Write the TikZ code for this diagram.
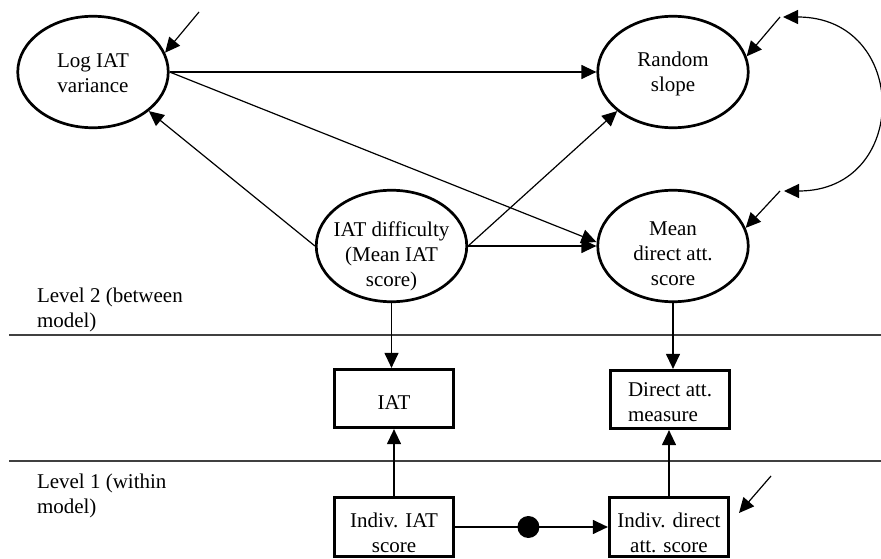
\documentclass[tikz,border=0pt]{standalone}
\usepackage{fontspec}
\setmainfont{Liberation Serif}
\usetikzlibrary{arrows.meta,shapes.geometric}
\newcommand{\ntext}[4]{\makebox[0pt][#2]{\raisebox{#1pt}[0pt][0pt]{\begin{tabular}[t]{@{}#3@{}}#4\end{tabular}}}}
\begin{document}
\begin{tikzpicture}[x=1pt,y=-1pt,
  every node/.style={font=\fontsize{21}{25}\selectfont, inner sep=0pt},
  latent/.style={ellipse, draw, line width=2.7pt, minimum width=150.5pt, minimum height=111.5pt},
  observed/.style={rectangle, draw, line width=2.7pt, minimum width=119.5pt, minimum height=58.5pt},
  conn/.style={line width=1.2pt, -{Triangle[length=15pt,width=14pt]}},
  biconn/.style={line width=1.2pt, {Triangle[length=15pt,width=14pt]}-{Triangle[length=15pt,width=14pt]}},
  levelsep/.style={line width=1.5pt, black!75},
  dotnode/.style={circle, fill=black, minimum size=22pt}
]
\useasboundingbox (0,0) rectangle (881,559);

% level separators
\coordinate (s2l) at (9,335); \coordinate (s2r) at (881,335);
\coordinate (s1l) at (9,461); \coordinate (s1r) at (881,461);
\draw[levelsep] (s2l) -- (s2r);
\draw[levelsep] (s1l) -- (s1r);

% latent variables
\node[latent] (loga) at (93,72) {\ntext{4}{c}{c}{Log IAT\\variance}};
\node[latent] (rs) at (673,72) {\ntext{5}{c}{c}{Random\\slope}};
\node[latent] (iatd) at (391.5,246) {\ntext{10}{c}{c}{IAT difficulty\\(Mean IAT\\score)}};
\node[latent] (mean) at (673,246) {\ntext{11}{c}{c}{Mean\\direct att.\\score}};

% observed
\node[observed] (iat) at (394,398.5) {\ntext{-10.5}{c}{c}{IAT}};
\node[observed] (dam) at (670,399.5) {\ntext{3.5}{c}{l}{Direct att.\\measure}};
\node[observed] (iis) at (394,527) {\ntext{0}{c}{c}{Indiv. IAT\\score}};
\node[observed] (ids) at (669,527) {\ntext{0}{c}{c}{Indiv. direct\\att. score}};

% level labels
\node (lev2) at (37,302) {\ntext{0}{l}{l}{Level 2 (between\\model)}};
\node (lev1) at (37,488) {\ntext{0}{l}{l}{Level 1 (within\\model)}};

% connectors
\coordinate (e1) at (199,12);
\draw[conn] (e1) -- (loga.15);
\draw[conn] (loga.east) -- (rs.west);
\draw[conn] (loga.east) -- ([yshift=4pt]mean.west);
\draw[conn] (iatd.west) -- (loga.-35);
\draw[conn] (iatd.east) -- (rs.215);
\draw[conn] (iatd.east) -- (mean.west);
\draw[conn] (iatd.south) -- (iatd.south |- iat.north);
\draw[conn] (mean.south) -- (mean.south |- dam.north);
\draw[conn] (iis.north) -- (iis.north |- iat.south);
\draw[conn] (ids.north) -- (ids.north |- dam.south);
\draw[conn] (iis.east) -- node[dotnode, pos=0.48] (dot) {} (ids.west);

\coordinate (e2) at (780,17);
\draw[conn] (e2) -- (rs.12);
\coordinate (e3) at (780,191);
\draw[conn] (e3) -- (mean.14);
\coordinate (c1) at (783,17);
\coordinate (c2) at (784,191);
\draw[biconn] (c1) .. controls +(127,0) and +(127,0) .. (c2);
\coordinate (e4) at (771,476);
\coordinate (e4t) at (739,513);
\draw[conn] (e4) -- (e4t);
\end{tikzpicture}
\end{document}
